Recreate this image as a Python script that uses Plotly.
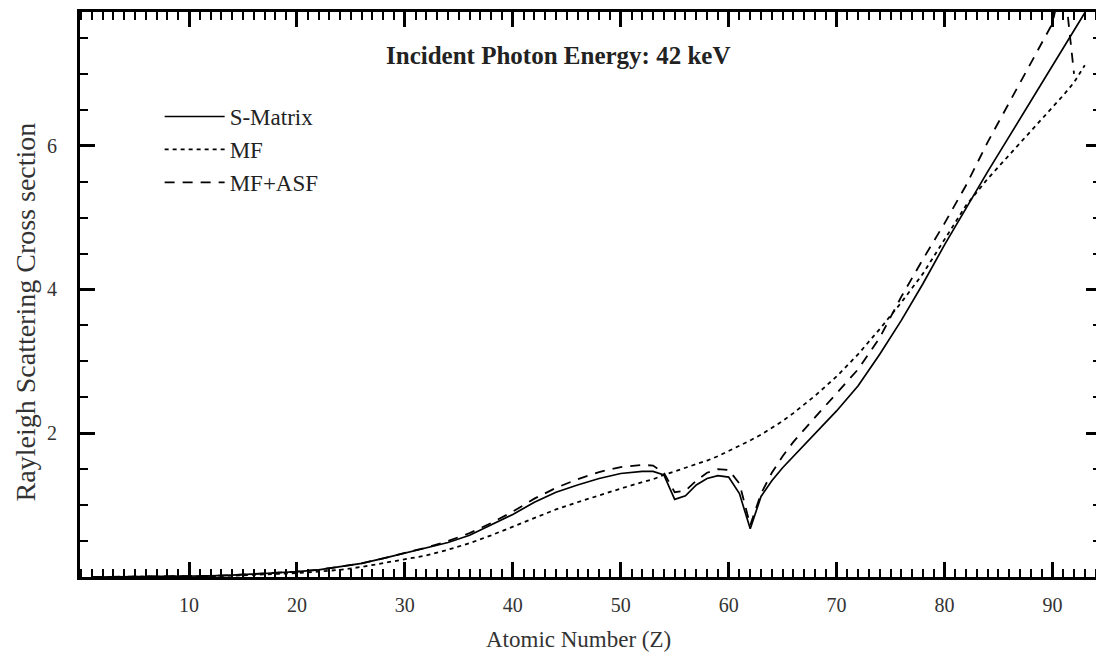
import plotly.graph_objects as go

# Atomic number grid
Z = [1, 5, 10, 12, 14, 16, 18, 20, 22, 24, 26, 28, 30, 32, 34, 36, 38, 40, 42, 44, 46, 48, 50,
     52, 53, 54, 55, 56, 57, 58, 59, 60, 61, 62, 63, 64, 65, 66, 68, 70, 72, 74, 76, 78, 80,
     82, 84, 86, 88, 90, 91, 92, 93]

s_matrix = [0.0, 0.002, 0.01, 0.015, 0.025, 0.04, 0.055, 0.075, 0.10, 0.14, 0.19, 0.26, 0.33,
            0.40, 0.48, 0.58, 0.72, 0.87, 1.04, 1.18, 1.28, 1.37, 1.44,
            1.47, 1.47, 1.42, 1.08, 1.13, 1.28, 1.37, 1.41, 1.39, 1.16, 0.67, 1.12, 1.34, 1.52,
            1.68, 1.99, 2.31, 2.66, 3.10, 3.57, 4.08, 4.62,
            5.14, 5.64, 6.13, 6.62, 7.11, 7.36, 7.60, 7.85]

mf = [0.0, 0.001, 0.005, 0.01, 0.018, 0.028, 0.04, 0.055, 0.075, 0.10, 0.14, 0.19, 0.24,
      0.30, 0.38, 0.47, 0.58, 0.70, 0.82, 0.94, 1.04, 1.14, 1.23,
      1.32, 1.36, 1.42, 1.47, 1.51, 1.56, 1.62, 1.68, 1.75, 1.82, 1.90, 1.98, 2.07, 2.17,
      2.28, 2.52, 2.79, 3.10, 3.45, 3.82, 4.22, 4.70,
      5.17, 5.54, 5.87, 6.20, 6.53, 6.70, 6.88, 7.12]

mf_asf = [0.0, 0.002, 0.01, 0.015, 0.025, 0.04, 0.055, 0.075, 0.10, 0.14, 0.19, 0.26, 0.33,
          0.41, 0.50, 0.61, 0.75, 0.91, 1.09, 1.24, 1.36, 1.46, 1.53,
          1.56, 1.55, 1.45, 1.18, 1.20, 1.34, 1.45, 1.50, 1.49, 1.30, 0.72, 1.16, 1.45, 1.68,
          1.88, 2.22, 2.55, 2.89, 3.33, 3.90, 4.42, 4.92,
          5.45, 6.05, 6.60, 7.14, 7.70, 8.40, 7.00, None]

x_ticks = [10, 20, 30, 40, 50, 60, 70, 80, 90]
y_ticks = [2, 4, 6]

FONT = "Liberation Serif"

fig = go.Figure()
fig.add_trace(go.Scatter(x=Z, y=s_matrix, mode="lines", name="S-Matrix",
                         line=dict(color="black", width=1.7, dash="solid"),
                         legendgroup="a"))
fig.add_trace(go.Scatter(x=Z, y=mf, mode="lines", name="MF",
                         line=dict(color="black", width=1.8, dash="4px,4px"),
                         legendgroup="b"))
fig.add_trace(go.Scatter(x=Z, y=mf_asf, mode="lines", name="MF+ASF",
                         line=dict(color="black", width=1.8, dash="10px,8px"),
                         legendgroup="c"))

axis_common = dict(
    showgrid=False, zeroline=False, showline=True, linecolor="black", linewidth=3,
    ticks="inside", ticklen=15, tickwidth=2.5, tickcolor="black",
    tickfont=dict(family=FONT, size=20, color="#333333"),
)

# the page adds an 8px body margin, so the figure is laid out 8px smaller / offset
fig.update_layout(
    width=1096, height=648,
    margin=dict(l=71.5, r=0, t=3.5, b=78.5),
    paper_bgcolor="white", plot_bgcolor="white",
    xaxis=dict(
        range=[-0.1, 94.5], tickvals=x_ticks, mirror="ticks",
        minor=dict(dtick=1, ticks="inside", ticklen=8, tickwidth=2, tickcolor="black"),
        ticklabelstandoff=8,
        **axis_common,
    ),
    yaxis=dict(
        range=[0, 7.86], tickvals=y_ticks, mirror="ticks",
        minor=dict(dtick=0.5, ticks="inside", ticklen=8, tickwidth=2, tickcolor="black"),
        ticklabelstandoff=16,
        **axis_common,
    ),
    legend=dict(
        x=0.078, y=0.853, xanchor="left", yanchor="top",
        bgcolor="rgba(0,0,0,0)", borderwidth=0,
        font=dict(family=FONT, size=23, color="#222222"),
        itemwidth=60, tracegroupgap=0,
    ),
    showlegend=True,
    annotations=[
        dict(text="<b>Incident Photon Energy: 42 keV</b>", xref="paper", yref="paper",
             x=0.468, y=0.923, xanchor="center", yanchor="middle", showarrow=False,
             font=dict(family=FONT, size=25, color="#222222")),
        dict(text="Atomic Number (Z)", xref="paper", yref="paper",
             x=0.4885, y=-0.111, xanchor="center", yanchor="middle", showarrow=False,
             font=dict(family=FONT, size=23, color="#333333")),
        dict(text="Rayleigh Scattering Cross section", xref="paper", yref="paper",
             x=-0.0535, y=0.469, xanchor="center", yanchor="middle", showarrow=False,
             textangle=-90, font=dict(family=FONT, size=28, color="#333333")),
    ],
)

fig.write_html("out.html")
